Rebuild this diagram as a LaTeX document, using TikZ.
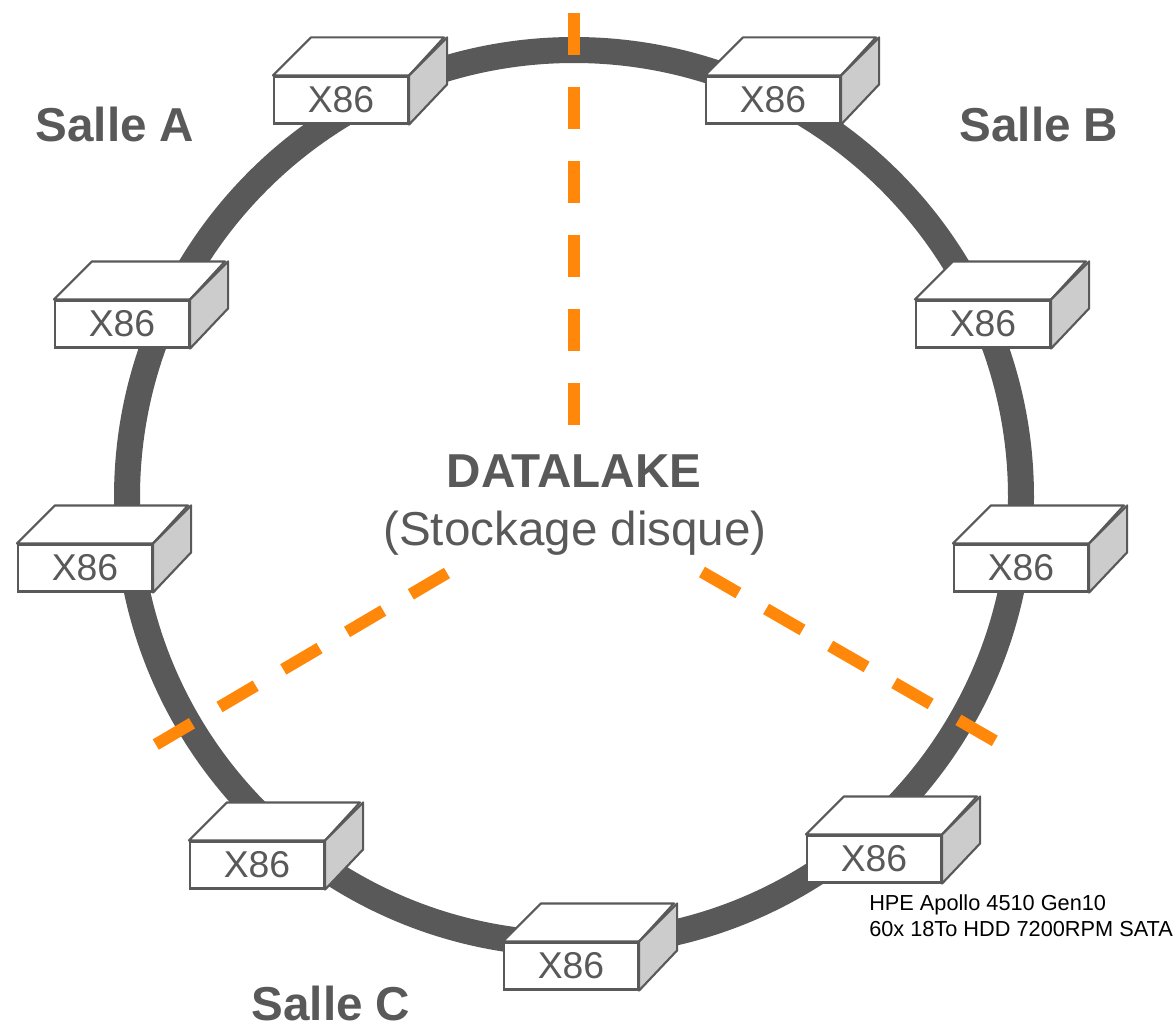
\documentclass[tikz,border=0pt]{standalone}
\usepackage{fontspec}
\setmainfont{Liberation Sans}
\definecolor{ringgray}{HTML}{595959}
\definecolor{sidegray}{HTML}{CCCCCC}
\definecolor{cutorange}{HTML}{FF8709}
\begin{document}
\begin{tikzpicture}[
        x=0.75pt,
        y=-0.75pt,
        ring/.style={line width=19.5pt, ringgray},
        cut/.style={line width=9pt, cutorange, dash pattern=on 31.5pt off 24pt},
        server/.style={rectangle, draw=ringgray, line width=1.6pt, fill=white, minimum width=100.5pt, minimum height=35.25pt, inner sep=0pt, font=\fontsize{28}{30}\selectfont, text=ringgray,
            append after command={
                \pgfextra{
                    \draw[ringgray, line width=1.6pt, line join=round, fill=white] (\tikzlastnode.north west) -- ++(38,-38) -- ++(133,0) -- (\tikzlastnode.north east) -- cycle;
                    \draw[ringgray, line width=1.6pt, line join=round, fill=sidegray] (\tikzlastnode.north east) -- ++(38,-38) -- ++(0,47) -- (\tikzlastnode.south east) -- cycle;
                }
            }},
        room/.style={font=\fontsize{35.7}{38}\selectfont\bfseries, text=ringgray}
    ]
        \useasboundingbox (0,0) rectangle (1175,1024);

        \coordinate (center) at (574,497);
        \draw[ring] (center) circle[radius=447];

        % cuts between the rooms
        \coordinate (topcut) at (574,13);
        \coordinate (topend) at (574,425);
        \coordinate (leftcut) at (447,573);
        \coordinate (leftend) at (155,745);
        \coordinate (rightcut) at (702,572);
        \coordinate (rightend) at (995,741);
        \draw[cut] (topcut) -- (topend);
        \draw[cut] (leftcut) -- (leftend);
        \draw[cut] (rightcut) -- (rightend);

        \node[server] (a1) at (341,100) {X86};
        \node[server] (a2) at (122,324) {X86};
        \node[server] (a3) at (85,568) {X86};
        \node[server] (b1) at (773,100) {X86};
        \node[server] (b2) at (983,324) {X86};
        \node[server] (b3) at (1021,568) {X86};
        \node[server] (b4) at (874,859) {X86};
        \node[server] (c1) at (257,865) {X86};
        \node[server] (c2) at (571,966) {X86};

        \node[room] (sallea) at (115,124) {Salle A};
        \node[room] (salleb) at (1039,124) {Salle B};
        \node[room] (sallec) at (331,1003) {Salle C};

        \node[room] (datalake) at (574,471) {DATALAKE};
        \node[font=\fontsize{35.7}{38}\selectfont, text=ringgray] (stockage) at (575,533) {(Stockage disque)};

        \node[anchor=west, align=left, inner sep=0pt, font=\fontsize{16.3}{19.5}\selectfont] (specs) at (869,916) {HPE Apollo 4510 Gen10\\60x 18To HDD 7200RPM SATA};
    \end{tikzpicture}
\end{document}
